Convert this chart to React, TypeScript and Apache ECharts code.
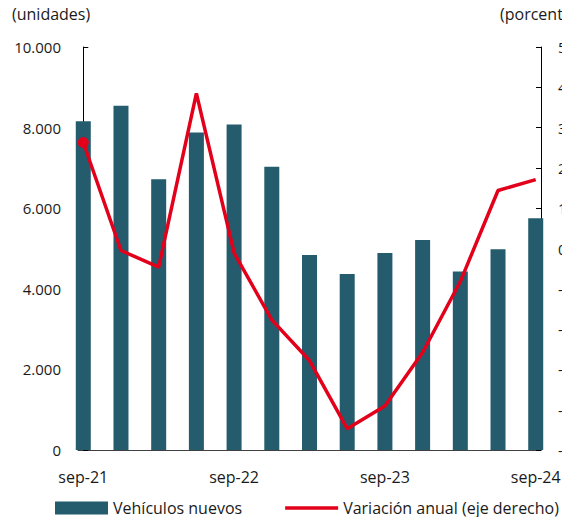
import React, { useEffect, useRef } from "react";
import * as echarts from "echarts";

const categories = ["sep-21", "dic-21", "mar-22", "jun-22", "sep-22", "dic-22", "mar-23", "jun-23", "sep-23", "dic-23", "mar-24", "jun-24", "sep-24"];
const labelIndexes = [0, 4, 8, 12];
const vehiculos = [8160, 8540, 6720, 7880, 8080, 7030, 4840, 4370, 4890, 5210, 4430, 4980, 5750];
const variacion = [26.3, -0.5, -4.6, 38.5, -1.1, -17.7, -27.8, -44.7, -39.1, -25.8, -8.2, 14.4, 17.1];

const FONT = "Open Sans";
const TXT = "#1a1a1a";
const BAR = "#245c6e";
const RED = "#e3001b";

function fmt(v: number) {
  return String(v).replace(/\B(?=(\d{3})+(?!\d))/g, ".");
}

export default function App() {
  const ref = useRef<HTMLDivElement>(null);
  useEffect(() => {
    document.body.style.margin = "0";
    const chart = echarts.init(ref.current!, null, { renderer: "svg" });
    chart.setOption({
      animation: false,
      textStyle: { fontFamily: FONT, color: TXT },
      grid: { left: 78, right: 21, top: 47, bottom: 67, containLabel: false, outerBoundsMode: "none" },
      graphic: [
        { type: "text", left: 12, top: 6, style: { text: "(unidades)", font: `16px "${FONT}"`, fill: TXT } },
        { type: "text", left: 500, top: 6, style: { text: "(porcentaje)", font: `16px "${FONT}"`, fill: TXT } },
      ],
      legend: {
        left: 55,
        top: 500,
        padding: 0,
        itemWidth: 53,
        itemHeight: 13,
        itemGap: 43,
        textStyle: { fontSize: 16, fontFamily: FONT, color: TXT },
        data: [
          { name: "Vehículos nuevos", icon: "rect" },
          { name: "Variación anual (eje derecho)", icon: "path://M0,0H53V3.5H0Z" },
        ],
      },
      xAxis: {
        type: "value",
        min: -0.14,
        max: 12.14,
        splitLine: { show: false },
        axisLine: { show: true, onZero: false, lineStyle: { color: "#404040", width: 1 } },
        axisTick: { show: true, inside: true, length: 4, customValues: labelIndexes, lineStyle: { color: "#000" } },
        axisLabel: {
          customValues: labelIndexes,
          formatter: (v: number) => categories[Math.round(v)],
          fontSize: 16,
          fontFamily: FONT,
          color: TXT,
          margin: 19,
        },
      },
      yAxis: [
        {
          type: "value",
          min: 0,
          max: 10000,
          interval: 2000,
          splitLine: { show: false },
          axisLine: { show: true, lineStyle: { color: "#000" } },
          axisTick: { show: true, inside: true, length: 5, lineStyle: { color: "#000" } },
          axisLabel: { formatter: (v: number) => fmt(v), fontSize: 15, fontFamily: FONT, color: TXT, margin: 17 },
        },
        {
          type: "value",
          position: "right",
          min: -50,
          max: 50,
          interval: 10,
          splitLine: { show: false },
          axisLine: { show: true, lineStyle: { color: "#000" } },
          axisTick: { show: true, inside: true, length: 5, lineStyle: { color: "#000" } },
          axisLabel: { fontSize: 15, fontFamily: FONT, color: TXT, margin: 17 },
        },
      ],
      series: [
        {
          name: "Vehículos nuevos",
          type: "bar",
          yAxisIndex: 0,
          barWidth: 15,
          clip: true,
          itemStyle: { color: BAR },
          data: vehiculos.map((v, i) => [i, v]),
        },
        {
          name: "Variación anual (eje derecho)",
          type: "line",
          yAxisIndex: 1,
          symbol: "none",
          z: 5,
          lineStyle: { color: RED, width: 3.5 },
          itemStyle: { color: RED },
          data: variacion.map((v, i) => [i, v]),
          markPoint: {
            symbol: "circle",
            symbolSize: 11,
            label: { show: false },
            itemStyle: { color: RED },
            data: [{ coord: [0, variacion[0]] }],
          },
        },
      ],
    });
    return () => chart.dispose();
  }, []);
  return <div ref={ref} style={{ width: 562, height: 517 }} />;
}
